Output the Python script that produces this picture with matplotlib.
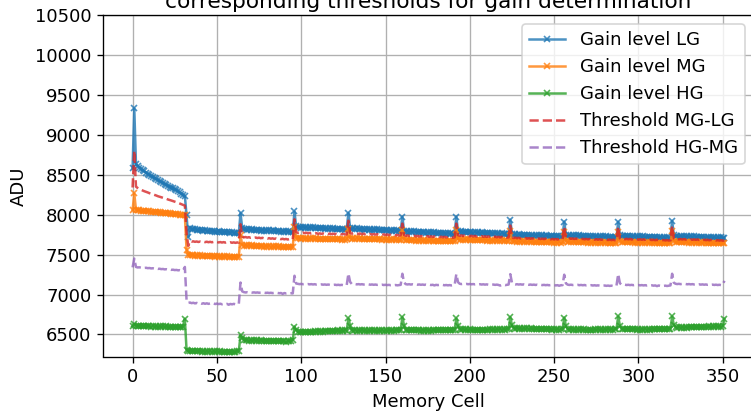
import numpy as np
import matplotlib.pyplot as plt

# mean ADU per memory cell for each gain stage (32-cell blocks)
gain_lg = [
    8580, 9330, 8640, 8612, 8590, 8572, 8556, 8541, 8527, 8514, 8498, 8486, 8472, 8460, 8447, 8433,
    8422, 8410, 8398, 8386, 8377, 8363, 8352, 8340, 8329, 8316, 8303, 8292, 8278, 8262, 8248, 8236,
    7990, 7720, 7832, 7818, 7815, 7823, 7809, 7813, 7804, 7809, 7800, 7806, 7797, 7794, 7801, 7791,
    7796, 7789, 7785, 7791, 7783, 7788, 7779, 7783, 7777, 7784, 7775, 7780, 7771, 7776, 7769, 7767,
    8020, 7832, 7817, 7823, 7811, 7818, 7809, 7815, 7807, 7812, 7804, 7811, 7801, 7808, 7799, 7806,
    7797, 7804, 7795, 7802, 7793, 7800, 7791, 7798, 7789, 7796, 7787, 7794, 7785, 7792, 7788, 7783,
    8040, 7852, 7841, 7849, 7839, 7846, 7837, 7844, 7835, 7842, 7833, 7840, 7831, 7838, 7829, 7836,
    7827, 7834, 7825, 7832, 7823, 7830, 7821, 7828, 7819, 7826, 7817, 7824, 7815, 7822, 7813, 7818,
    8022, 7836, 7824, 7830, 7821, 7827, 7818, 7825, 7816, 7823, 7814, 7821, 7812, 7819, 7810, 7817,
    7808, 7815, 7806, 7813, 7804, 7811, 7802, 7809, 7800, 7807, 7798, 7805, 7796, 7803, 7794, 7798,
    7972, 7800, 7789, 7795, 7786, 7793, 7784, 7790, 7782, 7788, 7779, 7786, 7777, 7784, 7775, 7782,
    7773, 7780, 7771, 7778, 7769, 7776, 7767, 7774, 7765, 7772, 7763, 7770, 7761, 7768, 7760, 7764,
    7972, 7795, 7783, 7790, 7781, 7788, 7779, 7786, 7777, 7784, 7775, 7782, 7773, 7780, 7771, 7778,
    7769, 7776, 7767, 7774, 7765, 7772, 7763, 7770, 7761, 7768, 7759, 7766, 7757, 7764, 7756, 7760,
    7936, 7762, 7748, 7755, 7746, 7753, 7744, 7751, 7742, 7749, 7741, 7748, 7739, 7746, 7738, 7745,
    7736, 7743, 7735, 7742, 7733, 7740, 7732, 7739, 7730, 7737, 7729, 7736, 7727, 7734, 7726, 7731,
    7912, 7750, 7738, 7745, 7736, 7743, 7734, 7741, 7733, 7740, 7731, 7738, 7729, 7736, 7728, 7735,
    7726, 7733, 7725, 7732, 7723, 7730, 7722, 7729, 7720, 7727, 7719, 7726, 7717, 7724, 7716, 7720,
    7910, 7742, 7730, 7737, 7728, 7735, 7727, 7734, 7725, 7732, 7724, 7731, 7722, 7729, 7721, 7728,
    7719, 7726, 7718, 7725, 7716, 7723, 7715, 7722, 7713, 7720, 7712, 7719, 7711, 7718, 7710, 7714,
    7922, 7740, 7728, 7735, 7726, 7733, 7725, 7732, 7723, 7730, 7722, 7729, 7720, 7727, 7719, 7726,
    7717, 7724, 7716, 7723, 7714, 7721, 7713, 7720, 7711, 7718, 7710, 7717, 7708, 7715, 7707, 7711,
]

gain_mg = [
    8055, 8265, 8062, 8056, 8053, 8050, 8049, 8046, 8045, 8042, 8041, 8038, 8037, 8034, 8033, 8030,
    8029, 8026, 8025, 8022, 8021, 8018, 8017, 8014, 8012, 8009, 8007, 8004, 8001, 7998, 7995, 7991,
    7560, 7493, 7498, 7490, 7494, 7487, 7492, 7485, 7490, 7483, 7488, 7481, 7486, 7479, 7484, 7478,
    7483, 7476, 7481, 7475, 7480, 7473, 7478, 7472, 7477, 7471, 7476, 7470, 7475, 7469, 7474, 7472,
    7740, 7624, 7612, 7618, 7609, 7616, 7607, 7614, 7605, 7612, 7604, 7611, 7602, 7609, 7601, 7608,
    7599, 7606, 7598, 7605, 7596, 7603, 7595, 7602, 7593, 7600, 7592, 7599, 7590, 7597, 7592, 7594,
    7845, 7712, 7703, 7709, 7701, 7708, 7700, 7706, 7699, 7705, 7697, 7704, 7696, 7703, 7695, 7701,
    7694, 7700, 7693, 7699, 7692, 7698, 7691, 7697, 7690, 7696, 7689, 7695, 7688, 7694, 7687, 7690,
    7825, 7708, 7699, 7705, 7697, 7704, 7696, 7702, 7695, 7701, 7693, 7700, 7692, 7699, 7691, 7697,
    7690, 7696, 7689, 7695, 7688, 7694, 7687, 7693, 7686, 7692, 7685, 7691, 7684, 7690, 7683, 7686,
    7805, 7690, 7680, 7686, 7678, 7685, 7677, 7683, 7676, 7682, 7674, 7681, 7673, 7680, 7672, 7678,
    7671, 7677, 7670, 7676, 7669, 7675, 7668, 7674, 7667, 7673, 7666, 7672, 7665, 7671, 7664, 7667,
    7805, 7695, 7686, 7692, 7684, 7691, 7683, 7689, 7682, 7688, 7680, 7687, 7679, 7686, 7678, 7684,
    7677, 7683, 7676, 7682, 7675, 7681, 7674, 7680, 7673, 7679, 7672, 7678, 7671, 7677, 7670, 7673,
    7792, 7674, 7665, 7671, 7663, 7670, 7662, 7668, 7661, 7667, 7659, 7666, 7658, 7665, 7657, 7663,
    7656, 7662, 7655, 7661, 7654, 7660, 7653, 7659, 7652, 7658, 7651, 7657, 7650, 7656, 7649, 7652,
    7782, 7668, 7659, 7665, 7657, 7664, 7656, 7662, 7655, 7661, 7653, 7660, 7652, 7659, 7651, 7657,
    7650, 7656, 7649, 7655, 7648, 7654, 7647, 7653, 7646, 7652, 7645, 7651, 7644, 7650, 7643, 7646,
    7785, 7665, 7657, 7663, 7655, 7662, 7654, 7660, 7653, 7659, 7651, 7658, 7650, 7657, 7649, 7655,
    7648, 7654, 7647, 7653, 7646, 7652, 7645, 7651, 7644, 7650, 7643, 7649, 7642, 7648, 7641, 7644,
    7792, 7664, 7656, 7662, 7654, 7661, 7653, 7659, 7652, 7658, 7650, 7657, 7649, 7656, 7648, 7654,
    7647, 7653, 7646, 7652, 7645, 7651, 7644, 7650, 7643, 7649, 7642, 7648, 7641, 7647, 7640, 7644,
]

gain_hg = [
    6600, 6628, 6612, 6606, 6610, 6603, 6608, 6601, 6606, 6600, 6605, 6598, 6604, 6597, 6603, 6596,
    6602, 6595, 6601, 6594, 6600, 6593, 6599, 6592, 6598, 6591, 6597, 6590, 6596, 6592, 6598, 6695,
    6305, 6292, 6298, 6290, 6296, 6288, 6294, 6287, 6293, 6286, 6292, 6285, 6291, 6284, 6290, 6283,
    6289, 6282, 6288, 6281, 6287, 6280, 6286, 6279, 6285, 6278, 6284, 6280, 6286, 6282, 6288, 6290,
    6490, 6452, 6432, 6426, 6430, 6423, 6428, 6421, 6427, 6420, 6426, 6419, 6425, 6418, 6424, 6417,
    6423, 6416, 6422, 6415, 6421, 6414, 6420, 6413, 6419, 6412, 6418, 6405, 6417, 6420, 6424, 6428,
    6598, 6560, 6532, 6526, 6531, 6525, 6533, 6527, 6535, 6529, 6537, 6531, 6539, 6533, 6541, 6535,
    6543, 6537, 6545, 6539, 6547, 6541, 6548, 6542, 6549, 6543, 6550, 6544, 6551, 6545, 6552, 6548,
    6700, 6610, 6556, 6549, 6555, 6548, 6554, 6547, 6553, 6546, 6552, 6545, 6551, 6544, 6550, 6543,
    6550, 6544, 6551, 6545, 6552, 6546, 6553, 6547, 6554, 6548, 6555, 6549, 6556, 6550, 6557, 6553,
    6716, 6612, 6560, 6553, 6559, 6552, 6558, 6551, 6557, 6550, 6556, 6549, 6555, 6548, 6554, 6547,
    6555, 6549, 6556, 6550, 6557, 6551, 6558, 6552, 6559, 6553, 6560, 6554, 6561, 6555, 6562, 6558,
    6700, 6612, 6566, 6559, 6565, 6558, 6564, 6557, 6563, 6556, 6562, 6555, 6561, 6554, 6560, 6553,
    6561, 6555, 6562, 6556, 6563, 6557, 6564, 6558, 6565, 6559, 6566, 6560, 6567, 6561, 6568, 6565,
    6716, 6614, 6580, 6573, 6579, 6572, 6578, 6571, 6577, 6570, 6576, 6569, 6575, 6568, 6574, 6567,
    6573, 6566, 6572, 6565, 6571, 6564, 6570, 6563, 6569, 6562, 6568, 6561, 6567, 6560, 6566, 6563,
    6710, 6604, 6568, 6561, 6567, 6560, 6566, 6559, 6565, 6558, 6564, 6557, 6563, 6556, 6562, 6555,
    6562, 6556, 6563, 6557, 6564, 6558, 6565, 6559, 6566, 6560, 6567, 6561, 6568, 6562, 6569, 6566,
    6726, 6612, 6573, 6566, 6572, 6565, 6571, 6564, 6570, 6563, 6569, 6562, 6568, 6561, 6567, 6560,
    6567, 6561, 6568, 6562, 6569, 6563, 6570, 6564, 6571, 6565, 6572, 6566, 6573, 6567, 6574, 6571,
    6726, 6620, 6590, 6584, 6591, 6585, 6592, 6586, 6593, 6587, 6594, 6588, 6595, 6589, 6596, 6590,
    6597, 6591, 6598, 6592, 6599, 6593, 6600, 6594, 6601, 6595, 6602, 6596, 6603, 6597, 6604, 6696,
]

thr_mg_lg = [
    8340, 8800, 8351, 8334, 8321, 8311, 8302, 8293, 8286, 8278, 8269, 8262, 8254, 8247, 8240, 8231,
    8225, 8218, 8211, 8204, 8199, 8190, 8184, 8177, 8170, 8162, 8155, 8148, 8139, 8130, 8121, 8113,
    7775, 7610, 7668, 7662, 7666, 7660, 7664, 7658, 7663, 7657, 7662, 7656, 7661, 7655, 7660, 7654,
    7659, 7653, 7658, 7652, 7657, 7651, 7656, 7650, 7655, 7649, 7654, 7648, 7653, 7647, 7652, 7650,
    7880, 7726, 7716, 7720, 7713, 7718, 7711, 7716, 7709, 7714, 7707, 7712, 7705, 7710, 7703, 7708,
    7701, 7706, 7699, 7704, 7697, 7702, 7695, 7700, 7693, 7698, 7691, 7696, 7689, 7694, 7690, 7690,
    7942, 7782, 7772, 7778, 7770, 7776, 7768, 7774, 7766, 7772, 7764, 7770, 7762, 7768, 7760, 7766,
    7759, 7765, 7758, 7764, 7757, 7763, 7756, 7762, 7755, 7761, 7754, 7760, 7753, 7759, 7752, 7754,
    7924, 7772, 7762, 7768, 7760, 7766, 7758, 7764, 7756, 7762, 7754, 7760, 7752, 7758, 7751, 7757,
    7750, 7756, 7748, 7754, 7747, 7753, 7746, 7752, 7744, 7750, 7743, 7749, 7741, 7747, 7740, 7742,
    7888, 7745, 7735, 7741, 7733, 7739, 7731, 7737, 7729, 7735, 7727, 7733, 7726, 7732, 7724, 7730,
    7723, 7729, 7721, 7727, 7720, 7726, 7718, 7724, 7717, 7723, 7715, 7721, 7714, 7720, 7712, 7716,
    7888, 7745, 7735, 7741, 7733, 7739, 7731, 7737, 7730, 7736, 7728, 7734, 7726, 7732, 7725, 7731,
    7723, 7729, 7722, 7728, 7720, 7726, 7719, 7725, 7717, 7723, 7716, 7722, 7714, 7720, 7713, 7716,
    7864, 7718, 7707, 7713, 7705, 7711, 7703, 7709, 7702, 7708, 7700, 7706, 7699, 7705, 7697, 7703,
    7696, 7702, 7695, 7701, 7694, 7700, 7692, 7698, 7691, 7697, 7690, 7696, 7689, 7695, 7688, 7691,
    7847, 7709, 7699, 7705, 7697, 7703, 7695, 7701, 7694, 7700, 7692, 7698, 7691, 7697, 7690, 7696,
    7688, 7694, 7687, 7693, 7686, 7692, 7685, 7691, 7683, 7689, 7682, 7688, 7681, 7687, 7680, 7683,
    7848, 7704, 7694, 7700, 7692, 7698, 7691, 7697, 7689, 7695, 7688, 7694, 7686, 7692, 7685, 7691,
    7684, 7690, 7683, 7689, 7681, 7687, 7680, 7686, 7679, 7685, 7678, 7684, 7677, 7683, 7676, 7679,
    7857, 7702, 7692, 7698, 7690, 7696, 7689, 7695, 7688, 7694, 7686, 7692, 7685, 7691, 7684, 7690,
    7682, 7688, 7681, 7687, 7680, 7686, 7679, 7685, 7677, 7683, 7676, 7682, 7675, 7681, 7674, 7677,
]

thr_hg_mg = [
    7340, 7450, 7345, 7339, 7341, 7336, 7338, 7333, 7335, 7330, 7332, 7327, 7329, 7324, 7326, 7321,
    7323, 7318, 7320, 7315, 7317, 7312, 7314, 7309, 7311, 7306, 7308, 7303, 7305, 7300, 7303, 7345,
    6932, 6895, 6900, 6892, 6897, 6889, 6895, 6887, 6893, 6885, 6891, 6884, 6890, 6883, 6889, 6882,
    6888, 6881, 6887, 6880, 6885, 6878, 6884, 6877, 6883, 6872, 6882, 6877, 6883, 6878, 6883, 6882,
    7150, 7040, 7030, 7026, 7029, 7025, 7028, 7024, 7027, 7023, 7026, 7022, 7025, 7021, 7024, 7020,
    7023, 7019, 7022, 7018, 7021, 7017, 7020, 7016, 7019, 7008, 7018, 7014, 7017, 7013, 7016, 7014,
    7235, 7138, 7134, 7130, 7133, 7129, 7132, 7128, 7131, 7127, 7130, 7126, 7129, 7125, 7128, 7124,
    7127, 7123, 7126, 7122, 7125, 7121, 7124, 7120, 7123, 7119, 7122, 7118, 7121, 7117, 7120, 7118,
    7262, 7158, 7132, 7128, 7131, 7127, 7130, 7126, 7129, 7125, 7128, 7124, 7127, 7123, 7126, 7122,
    7125, 7121, 7124, 7120, 7123, 7119, 7122, 7118, 7121, 7117, 7120, 7116, 7119, 7115, 7118, 7121,
    7260, 7150, 7130, 7126, 7129, 7125, 7128, 7124, 7127, 7123, 7126, 7122, 7125, 7121, 7124, 7120,
    7123, 7119, 7122, 7114, 7121, 7118, 7121, 7117, 7120, 7116, 7119, 7115, 7118, 7114, 7117, 7120,
    7255, 7155, 7135, 7131, 7134, 7130, 7133, 7129, 7132, 7128, 7131, 7127, 7130, 7126, 7129, 7125,
    7128, 7124, 7127, 7123, 7126, 7122, 7125, 7121, 7124, 7120, 7112, 7119, 7123, 7118, 7122, 7125,
    7255, 7148, 7130, 7126, 7129, 7125, 7128, 7124, 7127, 7123, 7126, 7122, 7125, 7121, 7124, 7120,
    7123, 7119, 7122, 7118, 7121, 7117, 7120, 7116, 7119, 7115, 7118, 7114, 7117, 7110, 7116, 7118,
    7248, 7140, 7124, 7120, 7123, 7119, 7122, 7118, 7121, 7117, 7120, 7116, 7119, 7115, 7118, 7114,
    7117, 7113, 7116, 7112, 7115, 7111, 7114, 7110, 7113, 7109, 7112, 7108, 7111, 7107, 7110, 7112,
    7256, 7142, 7124, 7120, 7123, 7119, 7122, 7118, 7121, 7117, 7120, 7116, 7119, 7115, 7118, 7114,
    7117, 7113, 7116, 7112, 7115, 7111, 7114, 7105, 7113, 7109, 7112, 7108, 7111, 7107, 7110, 7114,
    7260, 7148, 7135, 7131, 7134, 7130, 7133, 7129, 7132, 7128, 7131, 7127, 7130, 7126, 7129, 7125,
    7128, 7124, 7127, 7123, 7126, 7122, 7125, 7121, 7124, 7120, 7123, 7119, 7122, 7118, 7121, 7172,
]

cells = np.arange(len(gain_lg))

plt.rcParams["font.size"] = 10.8

fig = plt.figure(figsize=(751 / 120, 413 / 120), dpi=120)
ax = fig.add_axes([103 / 751, 56.5 / 413, 651 / 751, 341.5 / 413])

ax.plot(cells, gain_lg, "x-", ms=3.5, alpha=0.8, label="Gain level LG")
ax.plot(cells, gain_mg, "x-", ms=3.5, alpha=0.8, label="Gain level MG")
ax.plot(cells, gain_hg, "x-", ms=3.5, alpha=0.8, label="Gain level HG")
ax.plot(cells, thr_mg_lg, "--", alpha=0.8, label="Threshold MG-LG")
ax.plot(cells, thr_hg_mg, "--", alpha=0.8, label="Threshold HG-MG")

ax.set_ylim(6224, 10500)
ax.set_xlabel("Memory Cell")
ax.set_ylabel("ADU")
ax.set_title("corresponding thresholds for gain determination", pad=4.5)
ax.grid(True)
ax.legend(loc="upper right")

fig.savefig("out.png", dpi=120)
